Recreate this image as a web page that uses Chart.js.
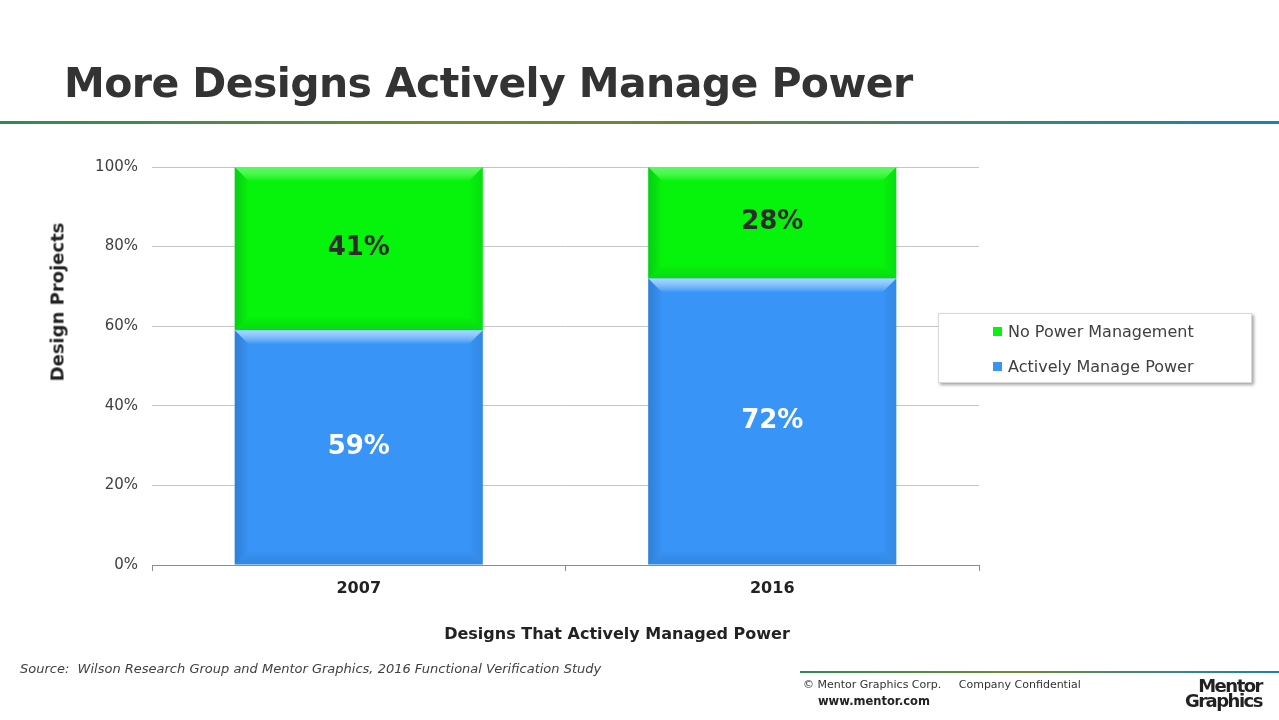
<!DOCTYPE html>
<html>
<head>
<meta charset="utf-8">
<script src="https://cdn.jsdelivr.net/npm/chart.js@4.4.1/dist/chart.umd.min.js"></script>
<style>
  body { margin: 0; width: 1279px; height: 720px; overflow: hidden; background: #fff; font-family: "DejaVu Sans", sans-serif; color: #404040; }
  #wrap { position: absolute; left: 0; top: 0; width: 1279px; height: 720px; }
  .abs { position: absolute; white-space: nowrap; }
  #title { left: 64px; top: 59px; font-size: 41px; font-weight: bold; color: #333; letter-spacing: -0.6px; }
  #rule { left: 0; top: 121px; width: 1279px; height: 3px; background: linear-gradient(to right, #2f8a55, #6e8c35 35%, #64863e 55%, #1a82b0); }
  #ytitle { left: 57px; top: 302px; font-size: 18px; font-weight: bold; color: #222; transform: translate(-50%, -50%) rotate(-90deg); }
  #xtitle { left: 617px; top: 633px; font-size: 16px; font-weight: bold; color: #222; transform: translate(-50%, -50%); }
  #legend { left: 938px; top: 313px; width: 312px; height: 68px; border: 1px solid #d9d9d9; box-shadow: 2px 2px 3px rgba(0,0,0,0.35); background: #fff; }
  .item { position: absolute; left: 54px; font-size: 16px; color: #404040; }
  .item span { display: inline-block; width: 9px; height: 9px; margin-right: 6px; vertical-align: 1px; }
  #source { left: 20px; top: 661px; font-size: 13px; font-style: italic; color: #404040; }
  #frule { left: 800px; top: 671px; width: 479px; height: 2px; background: linear-gradient(to right, #2f8a55, #6e8c35 45%, #1a82b0); }
  #copy { left: 803px; top: 678px; font-size: 11px; color: #333; }
  #www { left: 818px; top: 694px; font-size: 11.5px; font-weight: bold; color: #222; }
  #logo { right: 17px; top: 678px; font-size: 18px; font-weight: bold; line-height: 15px; color: #222; letter-spacing: -1.5px; text-align: right; }
</style>
</head>
<body>
<div id="wrap"><canvas id="chart"></canvas></div>
<div class="abs" id="title">More Designs Actively Manage Power</div>
<div class="abs" id="rule"></div>
<div class="abs" id="ytitle">Design Projects</div>
<div class="abs" id="xtitle">Designs That Actively Managed Power</div>
<div class="abs" id="legend"></div>
<div class="abs" id="source">Source:&nbsp; Wilson Research Group and Mentor Graphics, 2016 Functional Verification Study</div>
<div class="abs" id="frule"></div>
<div class="abs" id="copy">© Mentor Graphics Corp.&nbsp;&nbsp;&nbsp;&nbsp; Company Confidential</div>
<div class="abs" id="www">www.mentor.com</div>
<div class="abs" id="logo">Mentor<br>Graphics</div>
<script>
// dados do gráfico
const anos = ['2007', '2016'];
const gerenciaAtiva = [59, 72];
const semGerencia = [41, 28];
const nomesSeries = ['Actively Manage Power', 'No Power Management'];
const marcasY = [0, 20, 40, 60, 80, 100];

const azul = '#3894f6';
const verde = '#06f40b';

// efeito de chanfro nas barras (usa as posições calculadas pelo Chart.js)
const chanfro = {
    id: 'chanfro',
    afterDatasetsDraw(chart) {
        const ctx = chart.ctx;
        chart.data.datasets.forEach((ds, i) => {
            chart.getDatasetMeta(i).data.forEach(bar => {
                const l = bar.x - bar.width / 2, r = bar.x + bar.width / 2;
                const t = Math.min(bar.y, bar.base), b = Math.max(bar.y, bar.base);
                const e = 14;
                ctx.save();
                // topo claro
                let g = ctx.createLinearGradient(0, t, 0, t + e);
                g.addColorStop(0, i === 0 ? 'rgba(170,225,255,0.9)' : 'rgba(120,255,120,0.7)');
                g.addColorStop(1, 'rgba(255,255,255,0)');
                ctx.fillStyle = g;
                ctx.beginPath();
                ctx.moveTo(l, t); ctx.lineTo(r, t); ctx.lineTo(r - e, t + e); ctx.lineTo(l + e, t + e); ctx.closePath();
                ctx.fill();
                // lado esquerdo escuro
                g = ctx.createLinearGradient(l, 0, l + e, 0);
                g.addColorStop(0, 'rgba(0,40,90,0.18)');
                g.addColorStop(1, 'rgba(0,0,0,0)');
                ctx.fillStyle = g;
                ctx.beginPath();
                ctx.moveTo(l, t); ctx.lineTo(l + e, t + e); ctx.lineTo(l + e, b - e); ctx.lineTo(l, b); ctx.closePath();
                ctx.fill();
                // lado direito
                g = ctx.createLinearGradient(r, 0, r - e, 0);
                g.addColorStop(0, 'rgba(0,40,90,0.10)');
                g.addColorStop(1, 'rgba(0,0,0,0)');
                ctx.fillStyle = g;
                ctx.beginPath();
                ctx.moveTo(r, t); ctx.lineTo(r - e, t + e); ctx.lineTo(r - e, b - e); ctx.lineTo(r, b); ctx.closePath();
                ctx.fill();
                // base
                g = ctx.createLinearGradient(0, b, 0, b - e);
                g.addColorStop(0, 'rgba(0,40,90,0.12)');
                g.addColorStop(1, 'rgba(0,0,0,0)');
                ctx.fillStyle = g;
                ctx.beginPath();
                ctx.moveTo(l, b); ctx.lineTo(r, b); ctx.lineTo(r - e, b - e); ctx.lineTo(l + e, b - e); ctx.closePath();
                ctx.fill();
                ctx.restore();
            });
        });
    }
};

// rótulos de valor no centro de cada barra
const rotulos = {
    id: 'rotulos',
    afterDatasetsDraw(chart) {
        const ctx = chart.ctx;
        ctx.save();
        ctx.font = 'bold 26px "DejaVu Sans"';
        ctx.textAlign = 'center';
        ctx.textBaseline = 'middle';
        chart.data.datasets.forEach((ds, i) => {
            chart.getDatasetMeta(i).data.forEach((bar, j) => {
                ctx.fillStyle = i === 0 ? '#ffffff' : '#2b2b2b';
                ctx.fillText(ds.data[j] + '%', bar.x, (bar.y + bar.base) / 2);
            });
        });
        ctx.restore();
    }
};

const chart = new Chart(document.getElementById('chart'), {
    type: 'bar',
    data: {
        labels: anos,
        datasets: [
            { label: nomesSeries[0], data: gerenciaAtiva, backgroundColor: azul },
            { label: nomesSeries[1], data: semGerencia, backgroundColor: verde }
        ]
    },
    options: {
        responsive: true,
        maintainAspectRatio: false,
        animation: false,
        categoryPercentage: 0.6,
        barPercentage: 1,
        layout: { padding: { top: 167, right: 300, bottom: 75, left: 40 } },
        plugins: { legend: { display: false }, tooltip: { enabled: false } },
        scales: {
            x: {
                stacked: true,
                afterFit: s => { s.height = 80; },
                grid: { offset: true, drawOnChartArea: false, tickLength: 6, color: '#8c8c8c' },
                border: { color: '#8c8c8c' },
                ticks: { color: '#222', padding: 8, font: { family: 'DejaVu Sans', size: 16, weight: 'bold' } }
            },
            y: {
                stacked: true,
                min: 0,
                max: 100,
                afterFit: s => { s.width = 112; },
                afterBuildTicks: s => { s.ticks = marcasY.map(v => ({ value: v })); },
                grid: { color: '#c4c4c4', drawTicks: false },
                border: { display: false },
                ticks: { color: '#404040', padding: 14, font: { family: 'DejaVu Sans', size: 15 }, callback: v => v + '%' }
            }
        }
    },
    plugins: [chanfro, rotulos]
});

// legenda em ordem invertida, como no original
const leg = document.getElementById('legend');
const cores = [azul, verde];
[1, 0].forEach((i, k) => {
    const d = document.createElement('div');
    d.className = 'item';
    d.style.top = (k === 0 ? 8 : 43) + 'px';
    d.innerHTML = '<span style="background:' + cores[i] + '"></span>' + chart.data.datasets[i].label;
    leg.appendChild(d);
});
</script>
</body>
</html>
